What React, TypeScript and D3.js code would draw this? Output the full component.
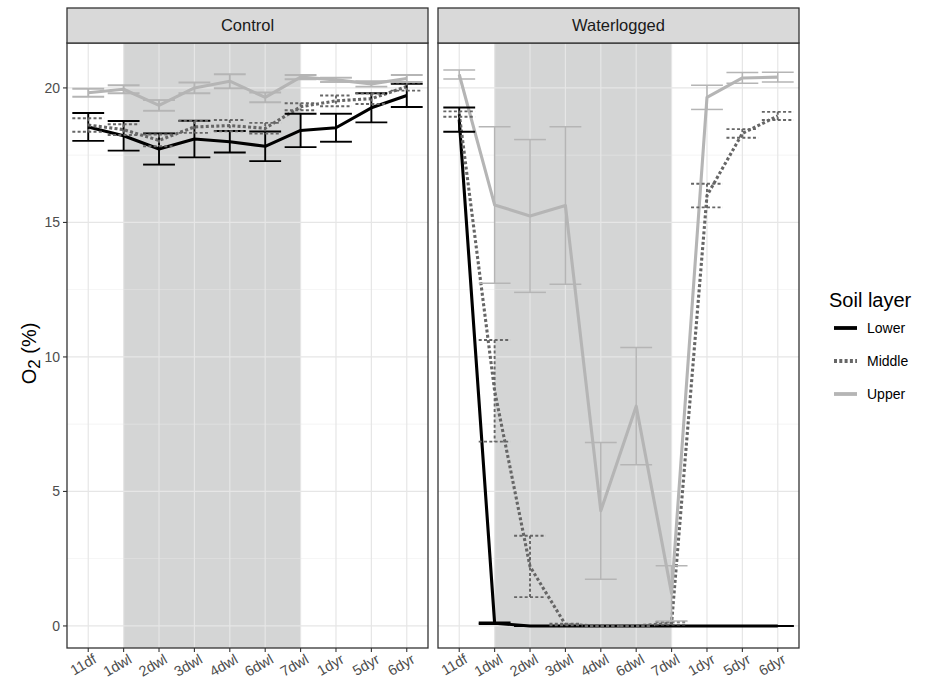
import React from "react";
import * as d3 from "d3";

// ---------- data ----------
const categories = ["11df", "1dwl", "2dwl", "3dwl", "4dwl", "6dwl", "7dwl", "1dyr", "5dyr", "6dyr"];
const panelNames = ["Control", "Waterlogged"];
const layerNames = ["Lower", "Middle", "Upper"];
const yTicks = [0, 5, 10, 15, 20];
const yMinorTicks = [2.5, 7.5, 12.5, 17.5];
const shadeFrom = "1dwl";
const shadeTo = "7dwl";

const controlLowerMean = [18.55, 18.22, 17.73, 18.1, 18.0, 17.83, 18.42, 18.52, 19.26, 19.72];
const controlLowerErr = [0.52, 0.55, 0.58, 0.68, 0.4, 0.55, 0.62, 0.52, 0.54, 0.43];
const controlMiddleMean = [18.62, 18.45, 18.05, 18.55, 18.6, 18.5, 19.3, 19.52, 19.6, 20.05];
const controlMiddleErr = [0.25, 0.2, 0.22, 0.22, 0.21, 0.2, 0.13, 0.2, 0.2, 0.15];
const controlUpperMean = [19.82, 19.95, 19.35, 20.0, 20.25, 19.65, 20.4, 20.3, 20.15, 20.35];
const controlUpperErr = [0.15, 0.15, 0.2, 0.2, 0.26, 0.18, 0.08, 0.08, 0.1, 0.13];

const waterLowerMean = [18.82, 0.1, 0, 0, 0, 0, 0, 0, 0, 0];
const waterLowerErr = [0.45, 0.03, 0, 0, 0, 0, 0, 0, 0, 0];
const waterMiddleMean = [19.03, 8.74, 2.21, 0.05, 0, 0, 0.1, 16.0, 18.31, 18.96];
const waterMiddleErr = [0.1, 1.89, 1.14, 0.03, 0, 0, 0.05, 0.44, 0.16, 0.15];
const waterUpperMean = [20.5, 15.65, 15.24, 15.63, 4.28, 8.17, 1.21, 19.65, 20.37, 20.4];
const waterUpperErr = [0.17, 2.91, 2.84, 2.93, 2.54, 2.18, 1.03, 0.45, 0.2, 0.18];

const panelData = [
  { Lower: [controlLowerMean, controlLowerErr], Middle: [controlMiddleMean, controlMiddleErr], Upper: [controlUpperMean, controlUpperErr] },
  { Lower: [waterLowerMean, waterLowerErr], Middle: [waterMiddleMean, waterMiddleErr], Upper: [waterUpperMean, waterUpperErr] },
];

// ---------- styles ----------
const layerStyle: Record<string, { color: string; dash?: string }> = {
  Lower: { color: "#000000" },
  Middle: { color: "#666666", dash: "3,2.3" },
  Upper: { color: "#b5b5b5" },
};

const FONT = "'Liberation Sans', Arial, Helvetica, sans-serif";
const W = 934;
const H = 687;
const panelX: [number, number][] = [[67, 428], [438, 799]];
const plotTop = 43;
const plotBottom = 648;
const stripTop = 8;

export default function App() {
  const y = d3.scaleLinear().domain([-0.82, 21.67]).range([plotBottom, plotTop]);

  return (
    <svg width={W} height={H} style={{ position: "absolute", left: 0, top: 0, background: "#fff" }} fontFamily={FONT}>
      <rect x={0} y={0} width={W} height={H} fill="#fff" />
      {panelNames.map((name, pi) => {
        const [x0, x1] = panelX[pi];
        const x = d3.scalePoint<string>().domain(categories).range([x0, x1]).padding(0.6);
        const step = x.step();
        const capHalf = step * 0.45;
        const data = panelData[pi] as Record<string, number[][]>;
        return (
          <g key={name}>
            <rect x={x0} y={plotTop} width={x1 - x0} height={plotBottom - plotTop} fill="#fff" />
            <rect
              x={x(shadeFrom)!}
              y={plotTop}
              width={x(shadeTo)! - x(shadeFrom)!}
              height={plotBottom - plotTop}
              fill="#d4d5d5"
            />
            {yMinorTicks.map((t) => (
              <line key={"mi" + t} x1={x0} x2={x1} y1={y(t)} y2={y(t)} stroke="#ebebeb" strokeWidth={0.6} opacity={0.85} />
            ))}
            {yTicks.map((t) => (
              <line key={"ma" + t} x1={x0} x2={x1} y1={y(t)} y2={y(t)} stroke="#e6e6e6" strokeWidth={1.2} />
            ))}
            {categories.map((c) => (
              <line key={"v" + c} x1={x(c)!} x2={x(c)!} y1={plotTop} y2={plotBottom} stroke="#e6e6e6" strokeWidth={1.2} />
            ))}
            {layerNames.map((ln) => {
              const [mean] = data[ln];
              const line = d3
                .line<number>()
                .x((_, i) => x(categories[i])!)
                .y((d) => y(d));
              const st = layerStyle[ln];
              return (
                <path
                  key={"l" + ln}
                  d={line(mean)!}
                  fill="none"
                  stroke={st.color}
                  strokeWidth={3.1}
                  strokeDasharray={st.dash}
                  strokeLinejoin="round"
                />
              );
            })}
            {layerNames.map((ln) => {
              const [mean, err] = data[ln];
              const st = layerStyle[ln];
              return (
                <g key={"e" + ln} stroke={st.color} strokeWidth={ln === "Upper" && pi === 1 ? 1.5 : 1.9} strokeDasharray={st.dash} fill="none">
                  {mean.map((m, i) => {
                    const cx = x(categories[i])!;
                    const hi = y(m + err[i]);
                    const lo = y(m - err[i]);
                    return (
                      <g key={i}>
                        <line x1={cx} x2={cx} y1={hi} y2={lo} />
                        <line x1={cx - capHalf} x2={cx + capHalf} y1={hi} y2={hi} />
                        <line x1={cx - capHalf} x2={cx + capHalf} y1={lo} y2={lo} />
                      </g>
                    );
                  })}
                </g>
              );
            })}
            <rect x={x0} y={plotTop} width={x1 - x0} height={plotBottom - plotTop} fill="none" stroke="#333" strokeWidth={1.3} />
            <rect x={x0} y={stripTop} width={x1 - x0} height={plotTop - stripTop} fill="#d9d9d9" stroke="#333" strokeWidth={1.3} />
            <text x={(x0 + x1) / 2} y={(stripTop + plotTop) / 2} dy="0.36em" textAnchor="middle" fontSize={16.5} fill="#1a1a1a">
              {name}
            </text>
            {categories.map((c) => (
              <g key={"xt" + c}>
                <line x1={x(c)!} x2={x(c)!} y1={plotBottom} y2={plotBottom + 4} stroke="#333" strokeWidth={1.1} />
                <text
                  transform={`translate(${x(c)! + 4},${plotBottom + 5}) rotate(-30)`}
                  textAnchor="end"
                  dy="0.72em"
                  fontSize={14.5}
                  fill="#4d4d4d"
                >
                  {c}
                </text>
              </g>
            ))}
          </g>
        );
      })}
      {yTicks.map((t) => (
        <g key={"yt" + t}>
          <line x1={panelX[0][0] - 4} x2={panelX[0][0]} y1={y(t)} y2={y(t)} stroke="#333" strokeWidth={1.1} />
          <text x={panelX[0][0] - 7} y={y(t)} dy="0.35em" textAnchor="end" fontSize={14} fill="#4d4d4d">
            {t}
          </text>
        </g>
      ))}
      <text
        transform={`translate(36,${(plotTop + plotBottom) / 2 + 8}) rotate(-90)`}
        textAnchor="middle"
        fontSize={20}
        fill="#000"
      >
        <tspan>O</tspan>
        <tspan fontSize={17} dy={4}>2</tspan>
        <tspan dy={-4}> (%)</tspan>
      </text>
      <text x={829} y={307} fontSize={20} fill="#000">Soil layer</text>
      {layerNames.map((ln, i) => {
        const st = layerStyle[ln];
        const ly = 328 + i * 33;
        return (
          <g key={"lg" + ln}>
            <line x1={834} x2={857} y1={ly} y2={ly} stroke={st.color} strokeWidth={3.8} strokeDasharray={st.dash} />
            <text x={867} y={ly} dy="0.36em" fontSize={14} fill="#000">
              {ln}
            </text>
          </g>
        );
      })}
    </svg>
  );
}
